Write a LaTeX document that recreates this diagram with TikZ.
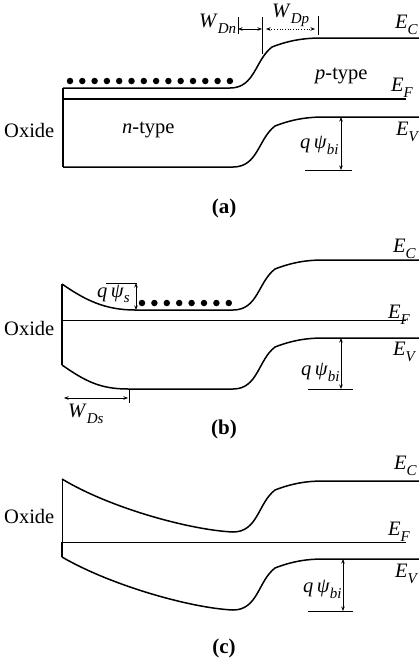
\documentclass[tikz,border=0pt]{standalone}
\usepackage{fontspec}
\setmainfont{Liberation Serif}
\usetikzlibrary{arrows.meta}
\newcommand{\ssub}[2]{\textit{#1}\raisebox{-6pt}{\fontsize{15}{15}\selectfont\textit{#2}}}
\begin{document}
\begin{tikzpicture}[x=1pt,y=-1pt,
  band/.style={line width=1.5pt},
  thinband/.style={line width=0.7pt},
  lbl/.style={inner sep=0pt, anchor=base west, font=\fontsize{20.5}{24}\selectfont},
  figcap/.style={inner sep=0pt, anchor=base, font=\fontsize{21}{25}\selectfont\bfseries},
  dim/.style={line width=0.7pt, {Stealth[length=4.5pt,width=3.5pt]}-{Stealth[length=4.5pt,width=3.5pt]}},
  tick/.style={line width=0.9pt},
  dot/.style={circle, fill=black, inner sep=0pt, minimum size=6.5pt}]
\useasboundingbox (0,0) rectangle (419,665);

% ---------------- panel (a)
\draw[band] (63,88) -- (63,167);
\draw[band] (63,88) -- (230,88) .. controls (255,88) and (255,60) .. (272,47)
   .. controls (290,40) and (305,38) .. (322,38) -- (419,38);
\draw[band] (63,99) -- (406,99);
\draw[band] (63,167) -- (233,167) .. controls (258,167) and (258,139) .. (275,126)
   .. controls (293,119) and (308,117) .. (325,117) -- (419,117);
\foreach \i in {0,...,13} \node[dot] (da\i) at ({70+\i*12.3},81) {};
\draw[tick] (238,17) -- (238,34);
\draw[tick] (262,17) -- (262,54);
\draw[tick] (318,16) -- (318,35);
\coordinate (wn1) at (238,29); \coordinate (wn2) at (262,29);
\coordinate (wp1) at (266,29); \coordinate (wp2) at (315,29);
\draw[dim] (wn1) -- (wn2);
\draw[dim, dotted] (wp1) -- (wp2);
\node[lbl] (WDn) at (199,27) {\ssub{W}{Dn}};
\node[lbl] (WDp) at (272,17) {\ssub{W}{Dp}};
\node[lbl] (ECa) at (395,28) {\ssub{E}{C}};
\node[lbl] (EFa) at (391,91) {\ssub{E}{F}};
\node[lbl] (EVa) at (396,135) {\ssub{E}{V}};
\node[lbl] (ptype) at (315,79) {\textit{p}-type};
\node[lbl] (ntype) at (122,133) {\textit{n}-type};
\node[lbl] (oxa) at (4,137) {Oxide};
\coordinate (bia1) at (341,117); \coordinate (bia2) at (341,170);
\draw[dim] (bia1) -- (bia2);
\draw[tick] (305,170) -- (352,170);
\node[lbl] (qbia) at (300,148) {\textit{q\,ψ}\raisebox{-6pt}{\fontsize{15}{15}\selectfont\textit{bi}}};
\node[figcap] (capa) at (224,213) {(a)};

% ---------------- panel (b)
\draw[band] (62,284) -- (62,365);
\draw[band] (62,284) .. controls (85,300) and (105,310) .. (135,310) -- (233,310)
   .. controls (258,310) and (258,282) .. (275,269)
   .. controls (293,262) and (308,260) .. (323,260) -- (419,260);
\draw[thinband] (62,320.5) -- (406,320.5);
\draw[band] (62,365) .. controls (85,381) and (100,389) .. (128,389) -- (233,389)
   .. controls (258,389) and (258,360) .. (275,347)
   .. controls (293,340) and (308,338) .. (323,338) -- (419,338);
\foreach \i in {0,...,7} \node[dot] (db\i) at ({142+\i*12.4},303) {};
\draw[tick] (106,283) -- (137,283);
\coordinate (ps1) at (136,283); \coordinate (ps2) at (136,310);
\draw[dim] (ps1) -- (ps2);
\node[lbl] (qps) at (97,297) {\textit{q\,ψ}\raisebox{-5pt}{\fontsize{15}{15}\selectfont\textit{s}}};
\draw[tick] (129,389) -- (129,403);
\coordinate (ds1) at (64,398); \coordinate (ds2) at (128,398);
\draw[dim] (ds1) -- (ds2);
\node[lbl] (WDs) at (68,417) {\ssub{W}{Ds}};
\node[lbl] (ECb) at (393,252) {\ssub{E}{C}};
\node[lbl] (EFb) at (388,318) {\ssub{E}{F}};
\node[lbl] (EVb) at (393,355) {\ssub{E}{V}};
\node[lbl] (oxb) at (4,335) {Oxide};
\coordinate (bib1) at (341,338); \coordinate (bib2) at (341,389);
\draw[dim] (bib1) -- (bib2);
\draw[tick] (308,389) -- (353,389);
\node[lbl] (qbib) at (301,375) {\textit{q\,ψ}\raisebox{-6pt}{\fontsize{15}{15}\selectfont\textit{bi}}};
\node[figcap] (capb) at (224,434) {(b)};

% ---------------- panel (c)
\draw[thinband] (62,479) -- (62,542);
\draw[band] (62,542) -- (62,557);
\draw[band] (62,479) .. controls (110,508) and (190,530) .. (233,532)
   .. controls (258,532) and (258,503) .. (275,490)
   .. controls (293,483) and (308,481) .. (323,481) -- (419,481);
\draw[thinband] (62,542) -- (406,542);
\draw[band] (62,557) .. controls (110,585) and (190,608) .. (233,610)
   .. controls (258,610) and (258,581) .. (275,568)
   .. controls (293,561) and (308,559) .. (323,559) -- (419,559);
\node[lbl] (ECc) at (394,469) {\ssub{E}{C}};
\node[lbl] (EFc) at (388,535) {\ssub{E}{F}};
\node[lbl] (EVc) at (395,577) {\ssub{E}{V}};
\node[lbl] (oxc) at (4,523) {Oxide};
\coordinate (bic1) at (343,559); \coordinate (bic2) at (343,611);
\draw[dim] (bic1) -- (bic2);
\draw[tick] (308,611) -- (353,611);
\node[lbl] (qbic) at (303,592) {\textit{q\,ψ}\raisebox{-6pt}{\fontsize{15}{15}\selectfont\textit{bi}}};
\node[figcap] (capc) at (224,653) {(c)};
\end{tikzpicture}
\end{document}
